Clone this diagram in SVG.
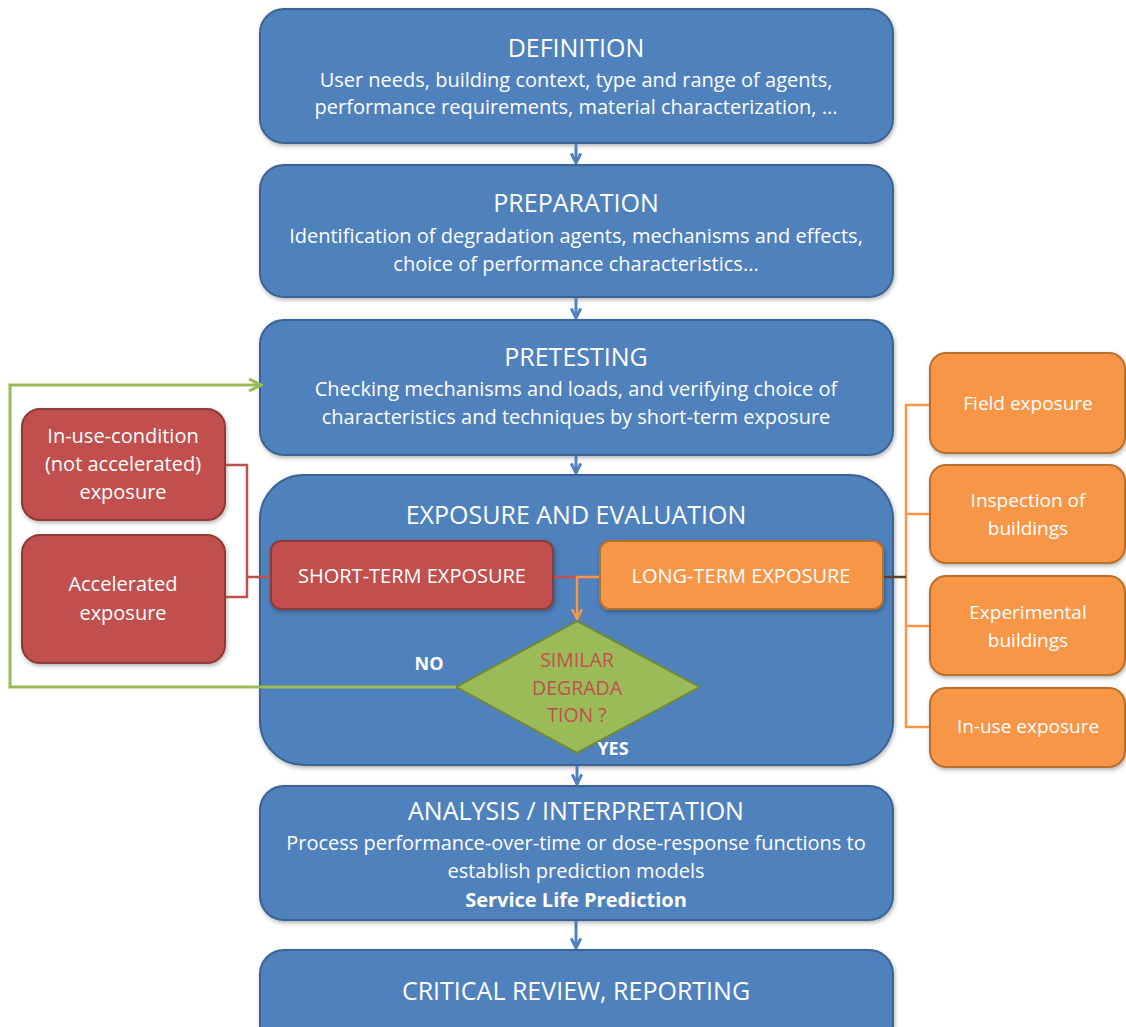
<svg xmlns="http://www.w3.org/2000/svg" width="1126" height="1027" viewBox="0 0 1126 1027">
<style>
.blue{fill:#4F81BD;stroke:#3B6493;stroke-width:2}
.red{fill:#C0504D;stroke:#8C3A37;stroke-width:2}
.orange{fill:#F79646;stroke:#B8702F;stroke-width:2}
.green{fill:#9BBB59;stroke:#71893F;stroke-width:2}
text{font-family:"Open Sans","Liberation Sans",Arial,sans-serif;fill:#fff;text-anchor:middle}
.t{font-size:25px}
.b{font-size:20px}
.s{font-size:20px}
.so{font-size:19px}
.m{font-size:20px}
.l{font-size:18px;font-weight:bold}
.d{font-size:19.5px;fill:#C0504D}
</style>
<defs>
<filter id="sh" x="-5%" y="-5%" width="110%" height="115%"><feDropShadow dx="1" dy="2" stdDeviation="2" flood-color="#000" flood-opacity="0.3"/></filter>
<marker id="ab" viewBox="0 0 10 10" refX="9" refY="5" markerWidth="4" markerHeight="4" orient="auto"><path d="M1,1 L9,5 L1,9" fill="none" stroke="#4F81BD" stroke-width="2.5"/></marker>
<marker id="ao" viewBox="0 0 10 10" refX="9" refY="5" markerWidth="5" markerHeight="5" orient="auto"><path d="M1,1 L9,5 L1,9" fill="none" stroke="#F79646" stroke-width="2"/></marker>
<marker id="ag" viewBox="0 0 10 10" refX="9" refY="5" markerWidth="5" markerHeight="5" orient="auto"><path d="M1,1 L9,5 L1,9" fill="none" stroke="#9BBB59" stroke-width="2"/></marker>
</defs>
<rect width="1126" height="1027" fill="#fff"/>
<g id="definition">
<rect class="blue" filter="url(#sh)" x="260" y="9" width="633" height="134" rx="24"/>
<text class="t" x="576" y="57">DEFINITION</text>
<text class="b" x="576" y="87">User needs, building context, type and range of agents,</text>
<text class="b" x="576" y="114">performance requirements, material characterization, ...</text>
</g>
<g id="preparation">
<rect class="blue" filter="url(#sh)" x="260" y="165" width="633" height="132" rx="24"/>
<text class="t" x="576" y="212">PREPARATION</text>
<text class="b" x="576" y="243">Identification of degradation agents, mechanisms and effects,</text>
<text class="b" x="576" y="271">choice of performance characteristics...</text>
</g>
<g id="pretesting">
<rect class="blue" filter="url(#sh)" x="260" y="320" width="633" height="135" rx="24"/>
<text class="t" x="576" y="366">PRETESTING</text>
<text class="b" x="576" y="396">Checking mechanisms and loads, and verifying choice of</text>
<text class="b" x="576" y="424">characteristics and techniques by short-term exposure</text>
</g>
<g id="exposure">
<rect class="blue" filter="url(#sh)" x="260" y="475" width="633" height="290" rx="44"/>
<text class="t" x="576" y="524">EXPOSURE AND EVALUATION</text>
</g>
<g id="in-use-condition">
<rect class="red" filter="url(#sh)" x="22" y="409" width="203" height="111" rx="18"/>
<text class="s" x="123" y="443">In-use-condition</text>
<text class="s" x="123" y="471">(not accelerated)</text>
<text class="s" x="123" y="499">exposure</text>
</g>
<g id="accelerated">
<rect class="red" filter="url(#sh)" x="22" y="535" width="203" height="128" rx="18"/>
<text class="s" x="123" y="591">Accelerated</text>
<text class="s" x="123" y="620">exposure</text>
</g>
<g id="short-term">
<rect class="red" filter="url(#sh)" x="271" y="541" width="282" height="68" rx="10"/>
<text class="m" x="412" y="583">SHORT-TERM EXPOSURE</text>
</g>
<g id="long-term">
<rect class="orange" filter="url(#sh)" x="600" y="541" width="283" height="68" rx="10"/>
<text class="m" x="741" y="583">LONG-TERM EXPOSURE</text>
</g>
<g id="similar-degradation">
<polygon class="green" points="577,621 700,687 577,753 456,687"/>
<text class="d" x="577" y="667">SIMILAR</text>
<text class="d" x="577" y="695">DEGRADA</text>
<text class="d" x="577" y="722">TION ?</text>
</g>
<g id="labels">
<text class="l" x="429" y="670">NO</text>
<text class="l" x="613" y="755">YES</text>
</g>
<g id="field-exposure">
<rect class="orange" filter="url(#sh)" x="930" y="353" width="195" height="100" rx="16"/>
<text class="so" x="1028" y="410">Field exposure</text>
</g>
<g id="inspection">
<rect class="orange" filter="url(#sh)" x="930" y="465" width="195" height="98" rx="16"/>
<text class="so" x="1028" y="507">Inspection of</text>
<text class="so" x="1028" y="535">buildings</text>
</g>
<g id="experimental">
<rect class="orange" filter="url(#sh)" x="930" y="576" width="195" height="99" rx="16"/>
<text class="so" x="1028" y="619">Experimental</text>
<text class="so" x="1028" y="647">buildings</text>
</g>
<g id="in-use-exposure">
<rect class="orange" filter="url(#sh)" x="930" y="688" width="195" height="79" rx="16"/>
<text class="so" x="1028" y="733">In-use exposure</text>
</g>
<g id="analysis">
<rect class="blue" filter="url(#sh)" x="260" y="786" width="633" height="134" rx="24"/>
<text class="t" x="576" y="820">ANALYSIS / INTERPRETATION</text>
<text class="b" x="576" y="850">Process performance-over-time or dose-response functions to</text>
<text class="b" x="576" y="878">establish prediction models</text>
<text class="b" x="576" y="907" font-weight="bold" font-size="19">Service Life Prediction</text>
</g>
<g id="critical-review">
<rect class="blue" filter="url(#sh)" x="260" y="950" width="633" height="100" rx="24"/>
<text class="t" x="576" y="1000">CRITICAL REVIEW, REPORTING</text>
</g>
<g id="connectors" fill="none">
<line x1="576" y1="144" x2="576" y2="163" stroke="#4F81BD" stroke-width="3" marker-end="url(#ab)"/>
<line x1="576" y1="298" x2="576" y2="318" stroke="#4F81BD" stroke-width="3" marker-end="url(#ab)"/>
<line x1="576" y1="456" x2="576" y2="473" stroke="#4F81BD" stroke-width="3" marker-end="url(#ab)"/>
<line x1="577" y1="766" x2="577" y2="784" stroke="#4F81BD" stroke-width="3" marker-end="url(#ab)"/>
<line x1="576" y1="921" x2="576" y2="948" stroke="#4F81BD" stroke-width="3" marker-end="url(#ab)"/>
<polyline points="226,465 247,465 247,597 226,597" stroke="#C0504D" stroke-width="2.5"/>
<line x1="247" y1="577" x2="270" y2="577" stroke="#C0504D" stroke-width="2.5"/>
<line x1="554" y1="577" x2="599" y2="577" stroke="#C0504D" stroke-width="2.5"/>
<polyline points="599,577 577,577 577,619" stroke="#F79646" stroke-width="2.5" marker-end="url(#ao)"/>
<polyline points="456,687 10,687 10,385 261,385" stroke="#9BBB59" stroke-width="3" marker-end="url(#ag)"/>
<polyline points="929,405 906,405 906,727 929,727" stroke="#F79646" stroke-width="2.5"/>
<line x1="906" y1="514" x2="929" y2="514" stroke="#F79646" stroke-width="2.5"/>
<line x1="906" y1="626" x2="929" y2="626" stroke="#F79646" stroke-width="2.5"/>
<line x1="884" y1="577" x2="906" y2="577" stroke="#5A4030" stroke-width="2.5"/>
</g>
</svg>
